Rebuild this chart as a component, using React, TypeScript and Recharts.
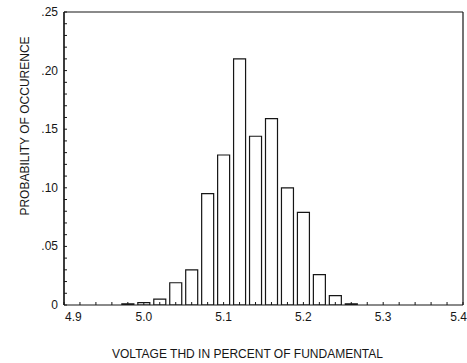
import { BarChart, Bar, XAxis, YAxis, Label, ReferenceLine } from 'recharts'

// histogram bins (centre of each 0.02 wide class) and their probabilities
const binCenters = [4.98, 5.0, 5.02, 5.04, 5.06, 5.08, 5.1, 5.12, 5.14, 5.16, 5.18, 5.2, 5.22, 5.24, 5.26]
const probability = [0.001, 0.002, 0.005, 0.019, 0.03, 0.095, 0.128, 0.21, 0.144, 0.159, 0.1, 0.079, 0.026, 0.008, 0.001]

const xTicks = [4.9, 5.0, 5.1, 5.2, 5.3, 5.4]
const yTicks = [0, 0.05, 0.1, 0.15, 0.2, 0.25]
const xTitle = 'VOLTAGE THD IN PERCENT OF FUNDAMENTAL'
const yTitle = 'PROBABILITY OF OCCURENCE'

// small inward ticks along the frame
const xMinor = Array.from({ length: 26 }, (_, i) => Math.round((4.9 + i * 0.02) * 100) / 100)
const yMinor = Array.from({ length: 26 }, (_, i) => Math.round(i * 0.01 * 100) / 100)

const data = binCenters.map((x, i) => ({ x, p: probability[i] }))

const INK = '#161616'
const FONT = '"Liberation Sans", Arial, sans-serif'
const MARGIN = 6
const fmtY = (v: number) => (v === 0 ? '0' : v.toFixed(2).replace(/^0/, ''))
const isMajor = (v: number, list: number[]) => list.some(t => Math.abs(t - v) < 1e-6)

function LeftTick(props: any) {
  const { x, y, payload } = props
  const v = payload.value
  return (
    <g>
      <line x1={x + MARGIN} x2={x + MARGIN + 3} y1={y} y2={y} stroke={INK} strokeWidth={1} />
      {isMajor(v, yTicks) && (
        <text x={x} y={y} textAnchor="end" dominantBaseline="central" fontSize={12} fill={INK} fontFamily={FONT}>{fmtY(v)}</text>
      )}
    </g>
  )
}

function BottomTick(props: any) {
  const { x, y, payload } = props
  const v = payload.value
  const first = Math.abs(v - xTicks[0]) < 1e-6
  const last = Math.abs(v - xTicks[xTicks.length - 1]) < 1e-6
  return (
    <g>
      <line x1={x} x2={x} y1={y - MARGIN} y2={y - MARGIN - 3} stroke={INK} strokeWidth={1} />
      {isMajor(v, xTicks) && (
        <text x={first ? x + 1 : last ? x + 4 : x} y={y} dy="0.85em"
          textAnchor={first ? 'start' : last ? 'end' : 'middle'} fontSize={12} fill={INK} fontFamily={FONT}>
          {v.toFixed(1)}
        </text>
      )}
    </g>
  )
}

export default function App() {
  return (
    <div style={{ position: 'absolute', left: 0, top: 0, background: '#fff' }}>
      <BarChart width={467} height={363} data={data} margin={{ top: 12, right: 4, bottom: 0, left: 0 }}>
        {/* top and right edges of the frame */}
        <XAxis xAxisId="top" orientation="top" type="number" dataKey="x" domain={[4.9, 5.4]} allowDataOverflow ticks={xMinor}
          height={1} mirror tick={false} tickSize={3} stroke={INK} strokeWidth={1.2} />
        <YAxis yAxisId="right" orientation="right" type="number" domain={[0, 0.25]} allowDataOverflow ticks={yMinor}
          width={1} mirror tick={false} tickSize={3} stroke={INK} strokeWidth={1.2} />

        <XAxis type="number" dataKey="x" domain={[4.9, 5.4]} allowDataOverflow ticks={xMinor}
          height={58} tickLine={false} tickSize={0} tickMargin={MARGIN}
          stroke={INK} strokeWidth={1.2} tick={<BottomTick />} interval={0}>
          <Label value={xTitle} position="insideBottom" offset={5} dx={-16}
            style={{ fontSize: 12, fill: INK, fontFamily: FONT }} />
        </XAxis>
        <YAxis type="number" domain={[0, 0.25]} allowDataOverflow ticks={yMinor}
          width={64} tickLine={false} tickSize={0} tickMargin={MARGIN}
          axisLine={{ stroke: INK, strokeWidth: 1.2 }} tick={<LeftTick />} interval={0}>
          <Label content={() => (
            <text x={25} y={126} transform="rotate(-90 25 126)" textAnchor="middle" dominantBaseline="central"
              style={{ fontSize: 12, fill: INK, fontFamily: FONT }}>{yTitle}</text>
          )} />
        </YAxis>

        <ReferenceLine x={xTicks[0]} stroke={INK} strokeWidth={1.2} ifOverflow="visible" />

        <Bar dataKey="p" barSize={12} fill="#fff" stroke={INK} strokeWidth={1.2} isAnimationActive={false} />
      </BarChart>
    </div>
  )
}
